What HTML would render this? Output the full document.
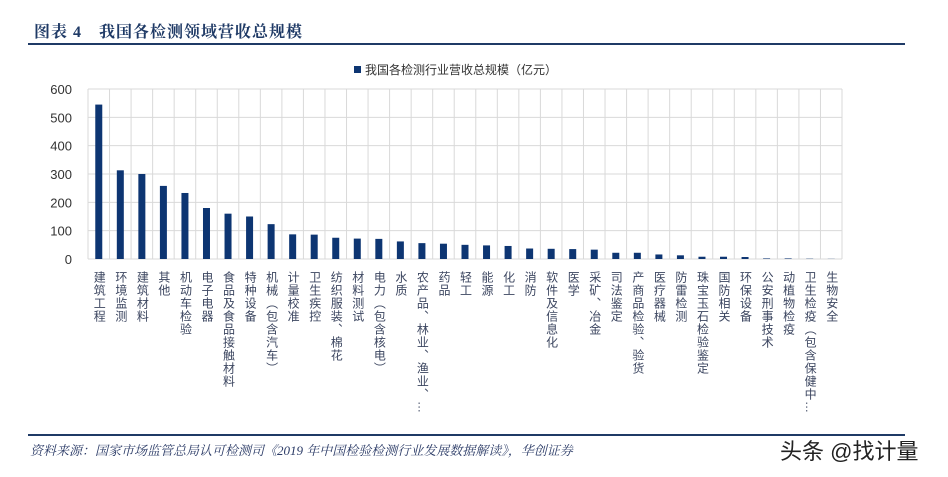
<!DOCTYPE html>
<html><head><meta charset="utf-8"><style>
body{margin:0;width:948px;height:477px;background:#fff;overflow:hidden;position:relative;font-family:"Liberation Sans","Noto Sans CJK SC",sans-serif}
.t{position:absolute;left:34px;top:19px;font-family:"Liberation Serif","Noto Serif CJK SC",serif;font-weight:bold;font-size:16px;color:#1f3a66;letter-spacing:1px}
.hl{position:absolute;left:28px;width:877px;height:2px;background:#1f3a66}
.lb{position:absolute;top:271px;writing-mode:vertical-rl;font-size:12px;letter-spacing:1px;color:#3c4660;line-height:13px;width:13px}
.src{position:absolute;left:30px;top:440px;font-family:"Liberation Serif","Noto Serif CJK SC",serif;font-style:italic;font-size:13px;color:#2a3a66}
.wm{position:absolute;left:780px;top:434px;font-size:22px;color:#222}
</style></head><body>
<div class="t">图表 4　我国各检测领域营收总规模</div>
<div class="hl" style="top:43px"></div>
<div class="hl" style="top:434px;height:1.5px"></div>
<div class="src">资料来源：国家市场监管总局认可检测司《2019 年中国检验检测行业发展数据解读》，华创证券</div>
<div class="wm">头条 @找计量</div>
<svg width="948" height="477" style="position:absolute;left:0;top:0" id="s"></svg>
<div id="labels"></div>
<script>
var names=["建筑工程","环境监测","建筑材料","其他","机动车检验","电子电器","食品及食品接触材料","特种设备","机械（包含汽车）","计量校准","卫生疾控","纺织服装、棉花","材料测试","电力（包含核电）","水质","农产品、林业、渔业、…","药品","轻工","能源","化工","消防","软件及信息化","医学","采矿、冶金","司法鉴定","产商品检验、验货","医疗器械","防雷检测","珠宝玉石检验鉴定","国防相关","环保设备","公安刑事技术","动植物检疫","卫生检疫（包含保健中…","生物安全"];
names=names.slice(0,15).concat(names.slice(15));
var vals=[545,313,300,258,233,180,160,150,123,87,86,75,72,71,62,56,54,50,48,46,37,36,35,33,22,22,16,13,8,8,7,2,2,1,0.5];
var n=names.length,L=88,R=842,T=89,B=259,w=(R-L)/n,h="";
for(var i=0;i<=6;i++){var y=B-i*(B-T)/6;h+='<line x1="'+L+'" x2="'+R+'" y1="'+y+'" y2="'+y+'" stroke="#d9d9d9"/>';h+='<text x="72" y="'+(y+5)+'" text-anchor="end" font-size="13" fill="#333" font-family="Liberation Sans">'+(i*100)+'</text>';}
for(var i=0;i<=n;i++){var x=L+i*w;h+='<line x1="'+x+'" x2="'+x+'" y1="'+T+'" y2="'+B+'" stroke="#d9d9d9"/>';}
var lab="";
for(var i=0;i<n;i++){var c=L+w*(i+0.5),bh=vals[i]*(B-T)/600;h+='<rect x="'+(c-3.5)+'" y="'+(B-bh)+'" width="7" height="'+bh+'" fill="#0d3572"/>';lab+='<div class="lb" style="left:'+(c-6.5)+'px">'+names[i]+'</div>';}
h+='<rect x="354" y="66" width="7" height="7" fill="#0d3572"/><text x="365" y="74" font-size="12" fill="#333" font-family="Liberation Sans,Noto Sans CJK SC">我国各检测行业营收总规模（亿元）</text>';
document.getElementById("s").innerHTML=h;document.getElementById("labels").innerHTML=lab;
</script>
</body></html>
